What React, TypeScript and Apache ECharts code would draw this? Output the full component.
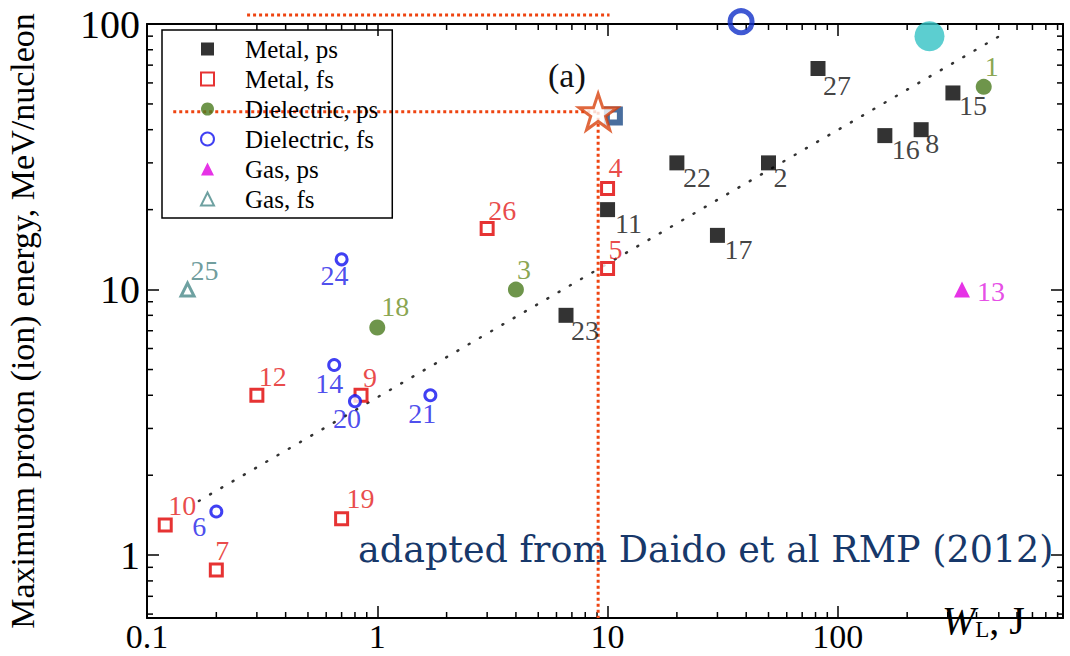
import React, { useEffect, useRef } from 'react';
import * as echarts from 'echarts';

// ---- data (W_L in J, E in MeV/nucleon) ----
const metalPs = [[82, 68], [20, 30], [50, 30], [10, 20], [30, 16], [6.6, 8], [160, 38], [230, 40], [316, 55]];
const metalPsIds = ['27', '22', '2', '11', '17', '23', '16', '8', '15'];
const metalFs = [[10, 24], [10, 12], [3, 17], [0.3, 4], [0.85, 4], [0.12, 1.3], [0.2, 0.88], [0.7, 1.37]];
const metalFsIds = ['4', '5', '26', '12', '9', '10', '7', '19'];
const dielPs = [[4, 10], [1, 7.2], [430, 58]];
const dielPsIds = ['3', '18', '1'];
const dielFs = [[0.7, 13], [0.65, 5.2], [0.8, 3.8], [1.7, 4], [0.2, 1.46]];
const dielFsIds = ['24', '14', '20', '21', '6'];
const gasPs = [[346, 10]];
const gasPsIds = ['13'];
const gasFs = [[0.15, 10]];
const gasFsIds = ['25'];

const fitLine = [[0.168, 1.6], [548, 94]];
const hLine = [[0.13, 46.7], [9.1, 46.7]];
const vLine = [[9.1, 46.7], [9.1, 0.58]];
const topLine = [[0.272, 108], [10.2, 108]];
const starPoint = [[9.1, 46.7]];
const squarePoint = [[10.6, 45]];
const ringPoint = [[38, 102]];
const cyanPoint = [[250, 90]];

const xTickLabels = ['0.1', '1', '10', '100'];
const yTickLabels = ['1', '10', '100'];
const xMinor = [0.2, 0.3, 0.4, 0.5, 0.6, 0.7, 0.8, 0.9, 2, 3, 4, 5, 6, 7, 8, 9, 20, 30, 40, 50, 60, 70, 80, 90, 200, 300, 400, 500, 600, 700, 800, 900];
const yMinor = [0.6, 0.7, 0.8, 0.9, 2, 3, 4, 5, 6, 7, 8, 9, 20, 30, 40, 50, 60, 70, 80, 90];

const X_MIN = 0.1, X_MAX = 950, Y_MIN = 0.58, Y_MAX = 100;

// label offsets (px, relative to marker centre)
const LABEL_OFFSETS: Record<string, [number, number]> = {
  '27': [19, 17], '22': [20, 15], '2': [12, 15], '11': [21, 14], '17': [21, 14], '23': [19, 15],
  '16': [21, 14], '8': [11, 14], '15': [20, 13],
  '4': [8, -21], '5': [8, -19], '26': [15, -18], '12': [16, -19], '9': [9, -18], '10': [17, -19],
  '7': [6, -19], '19': [19, -20],
  '3': [8, -20], '18': [18, -21], '1': [8, -20],
  '24': [-7, 16], '14': [-5, 18], '20': [-8, 17], '21': [-8, 18], '6': [-17, 15],
  '13': [29, 2], '25': [17, -19],
};

const SERIF = '"Liberation Serif", "Times New Roman", serif';
const STAR = 'path://M50,0 L61.8,35.1 L98.1,35.1 L68.8,56.7 L79.4,91.2 L50,70 L20.6,91.2 L31.2,56.7 L1.9,35.1 L38.2,35.1 Z';

function withLabels(data: number[][], ids: string[], color: string) {
  return data.map((d, i) => ({
    value: d,
    label: {
      show: true,
      formatter: ids[i],
      position: 'inside',
      offset: LABEL_OFFSETS[ids[i]] || [15, -15],
      color,
      fontFamily: SERIF,
      fontSize: 28,
      align: 'center',
      verticalAlign: 'middle',
    },
  }));
}

function fmt(list: string[]) {
  return (v: number) => {
    const s = String(+Number(v).toPrecision(6));
    return list.includes(s) ? s : '';
  };
}

export default function App() {
  const ref = useRef<HTMLDivElement>(null);
  useEffect(() => {
    document.body.style.margin = '0';
    const chart = echarts.init(ref.current!, null, { renderer: 'svg' });
    const axisLine = { show: true, onZero: false, lineStyle: { color: '#000', width: 2 } };
    const tick = { show: true, inside: true, length: 12, lineStyle: { color: '#000', width: 1.5 } };
    const scatterBase = { type: 'scatter', xAxisIndex: 0, yAxisIndex: 0, z: 3 };
    const minorLen = 6;
    chart.setOption({
      animation: false,
      backgroundColor: '#fff',
      grid: { left: 147, top: 24, right: 7, bottom: 38, outerBoundsMode: 'none', containLabel: false },
      legend: {
        orient: 'vertical',
        left: 162,
        top: 30,
        padding: [6, 14, 6, 38],
        itemGap: 4,
        itemWidth: 13,
        itemHeight: 13,
        borderColor: '#000',
        borderWidth: 1.5,
        backgroundColor: 'rgba(255,255,255,0)',
        textStyle: { fontFamily: SERIF, fontSize: 25, color: '#000', lineHeight: 26, padding: [0, 0, 0, 26] },
        data: ['Metal, ps', 'Metal, fs', 'Dielectric, ps', 'Dielectric, fs', 'Gas, ps', 'Gas, fs'],
      },
      xAxis: [
        {
          type: 'log', min: X_MIN, max: X_MAX, logBase: 10, position: 'bottom',
          axisLine, axisTick: tick, splitLine: { show: false },
          axisLabel: { formatter: fmt(xTickLabels), fontFamily: SERIF, fontSize: 34, color: '#000', margin: 1 },
        },
        {
          type: 'log', min: X_MIN, max: X_MAX, logBase: 10, position: 'top',
          axisLine, axisTick: tick, splitLine: { show: false }, axisLabel: { show: false },
        },
      ],
      yAxis: [
        {
          type: 'log', min: Y_MIN, max: Y_MAX, logBase: 10, position: 'left',
          axisLine, axisTick: tick, splitLine: { show: false },
          axisLabel: { formatter: fmt(yTickLabels), fontFamily: SERIF, fontSize: 40, color: '#000', margin: 7 },
          name: 'Maximum proton (ion) energy, MeV/nucleon',
          nameLocation: 'middle',
          nameGap: 108,
          nameTextStyle: { fontFamily: SERIF, fontSize: 34, color: '#000' },
        },
        {
          type: 'log', min: Y_MIN, max: Y_MAX, logBase: 10, position: 'right',
          axisLine, axisTick: tick, splitLine: { show: false }, axisLabel: { show: false },
        },
      ],
      graphic: [
        {
          type: 'text', left: 548, top: 58, z: 10,
          style: { text: '(a)', font: `34px ${SERIF}`, fill: '#111' },
        },
        {
          type: 'text', left: 358, top: 531, z: 10,
          style: { text: 'adapted from Daido et al RMP (2012)', font: `36.5px "DejaVu Serif", serif`, fill: '#17386a' },
        },
        {
          type: 'text', left: 942, top: 600, z: 10,
          style: {
            text: '{w|W}{s|L}{n|, J}',
            rich: {
              w: { fontFamily: SERIF, fontSize: 40, fontStyle: 'italic', fill: '#000', color: '#000' },
              s: { fontFamily: SERIF, fontSize: 23, fill: '#000', color: '#000', verticalAlign: 'bottom', padding: [18, 0, 0, 0] },
              n: { fontFamily: SERIF, fontSize: 40, fill: '#000', color: '#000' },
            },
          },
        },
      ],
      series: [
        {
          type: 'custom', xAxisIndex: 0, yAxisIndex: 0, silent: true, z: 2, clip: false,
          data: [[1, 1]],
          renderItem: (_p: any, api: any) => {
            const children: any[] = [];
            const st = { stroke: '#000', lineWidth: 1.5 };
            for (const v of xMinor) {
              const b = api.coord([v, Y_MIN]);
              const t = api.coord([v, Y_MAX]);
              children.push({ type: 'line', shape: { x1: b[0], y1: b[1], x2: b[0], y2: b[1] - minorLen }, style: st });
              children.push({ type: 'line', shape: { x1: t[0], y1: t[1], x2: t[0], y2: t[1] + minorLen }, style: st });
            }
            for (const v of yMinor) {
              const l = api.coord([X_MIN, v]);
              const r = api.coord([X_MAX, v]);
              children.push({ type: 'line', shape: { x1: l[0], y1: l[1], x2: l[0] + minorLen, y2: l[1] }, style: st });
              children.push({ type: 'line', shape: { x1: r[0], y1: r[1], x2: r[0] - minorLen, y2: r[1] }, style: st });
            }
            return { type: 'group', children };
          },
        },
        {
          type: 'line', data: fitLine, symbol: 'none', silent: true, z: 1,
          lineStyle: { color: '#333', width: 2.5, type: [1, 12], cap: 'round' },
        },
        {
          type: 'line', data: hLine, symbol: 'none', silent: true, z: 2,
          lineStyle: { color: '#ee4411', width: 3, type: [3, 3] },
        },
        {
          type: 'line', data: vLine, symbol: 'none', silent: true, z: 2,
          lineStyle: { color: '#ee4411', width: 3, type: [3, 3] },
        },
        {
          type: 'line', data: topLine, symbol: 'none', silent: true, z: 2, clip: false,
          lineStyle: { color: '#ee4411', width: 3, type: [3, 3] },
        },
        {
          ...scatterBase, name: 'Metal, ps', symbol: 'rect', symbolSize: 15,
          itemStyle: { color: '#000' },
          data: withLabels(metalPs, metalPsIds, '#111'),
        },
        {
          ...scatterBase, name: 'Metal, fs', symbol: 'rect', symbolSize: 12,
          itemStyle: { color: '#fff', borderColor: '#e00000', borderWidth: 3 },
          data: withLabels(metalFs, metalFsIds, '#e41a1a'),
        },
        {
          ...scatterBase, name: 'Dielectric, ps', symbol: 'circle', symbolSize: 16,
          itemStyle: { color: '#4a7a1e' },
          data: withLabels(dielPs, dielPsIds, '#6b8e23'),
        },
        {
          ...scatterBase, name: 'Dielectric, fs', symbol: 'circle', symbolSize: 11,
          itemStyle: { color: '#fff', borderColor: '#1010f0', borderWidth: 3 },
          data: withLabels(dielFs, dielFsIds, '#2020e8'),
        },
        {
          ...scatterBase, name: 'Gas, ps', symbol: 'triangle', symbolSize: 16,
          itemStyle: { color: '#e000e0' },
          data: withLabels(gasPs, gasPsIds, '#e020e0'),
        },
        {
          ...scatterBase, name: 'Gas, fs', symbol: 'triangle', symbolSize: 13,
          itemStyle: { color: '#fff', borderColor: '#4a8a8a', borderWidth: 3 },
          data: withLabels(gasFs, gasFsIds, '#4a8484'),
        },
        {
          ...scatterBase, symbol: 'rect', symbolSize: 13, z: 4,
          itemStyle: { color: '#fff', borderColor: '#1c4a86', borderWidth: 6 },
          data: squarePoint,
        },
        {
          ...scatterBase, symbol: STAR, symbolSize: 38, symbolKeepAspect: true, z: 5,
          itemStyle: { color: '#fff', borderColor: '#d8420e', borderWidth: 3 },
          data: starPoint,
        },
        {
          ...scatterBase, symbol: 'circle', symbolSize: 22, z: 5, clip: false,
          itemStyle: { color: 'rgba(255,255,255,0)', borderColor: '#1030c8', borderWidth: 5 },
          data: ringPoint,
        },
        {
          ...scatterBase, symbol: 'circle', symbolSize: 30, z: 5, clip: false,
          itemStyle: { color: '#33c2c4' },
          data: cyanPoint,
        },
      ],
    });
    return () => chart.dispose();
  }, []);
  return <div ref={ref} style={{ width: 1070, height: 656 }} />;
}
